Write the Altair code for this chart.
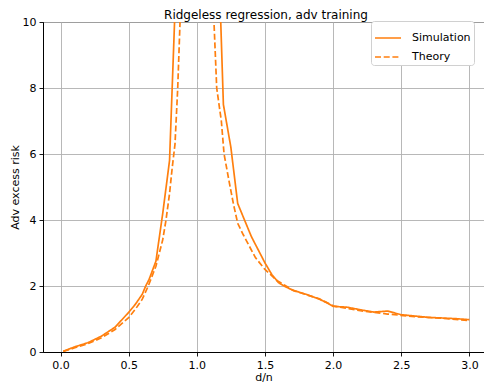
import altair as alt
import pandas as pd

# Simulation (solid)
sim_x = [0.02, 0.1, 0.2, 0.3, 0.4, 0.5, 0.55, 0.6, 0.625, 0.65, 0.7, 0.75, 0.8, 0.85,
         1.15, 1.195, 1.25, 1.3, 1.35, 1.4, 1.45, 1.5, 1.55, 1.6, 1.65, 1.7, 1.8, 1.9,
         1.95, 2.0, 2.1, 2.2, 2.3, 2.4, 2.5, 2.6, 2.7, 2.8, 2.9, 3.0]
sim_y = [0.02, 0.15, 0.28, 0.48, 0.75, 1.2, 1.45, 1.75, 2.0, 2.2, 2.75, 4.2, 5.8, 11.5,
         13.3, 7.5, 6.2, 4.5, 4.0, 3.5, 3.1, 2.7, 2.35, 2.1, 1.98, 1.88, 1.75, 1.6,
         1.5, 1.38, 1.36, 1.28, 1.21, 1.24, 1.13, 1.09, 1.05, 1.03, 1.01, 0.98]

# Theory (dashed)
th_x = [0.02, 0.1, 0.2, 0.3, 0.4, 0.5, 0.55, 0.6, 0.644, 0.7, 0.75, 0.774, 0.8, 0.82,
        0.84, 0.86, 0.877, 0.9,
        1.1, 1.126, 1.146, 1.18, 1.2, 1.24, 1.27, 1.3, 1.34, 1.43, 1.5, 1.59, 1.71,
        1.9, 2.0, 2.2, 2.4, 2.6, 2.8, 3.0]
th_y = [0.02, 0.12, 0.25, 0.43, 0.68, 1.04, 1.3, 1.6, 2.0, 2.6, 3.4, 4.0, 4.8, 5.6,
        6.3, 8.0, 10.0, 14.0,
        15.0, 10.0, 8.0, 7.0, 6.0, 5.1, 4.46, 3.9, 3.56, 2.86, 2.5, 2.16, 1.86,
        1.61, 1.4, 1.25, 1.15, 1.07, 1.02, 0.95]

x_ticks = [0.0, 0.5, 1.0, 1.5, 2.0, 2.5, 3.0]
y_ticks = [0, 2, 4, 6, 8, 10]
title_text = ["Ridgeless regression, adv training"]

df = pd.concat([
    pd.DataFrame({"d/n": sim_x, "risk": sim_y, "series": "Simulation", "order": range(len(sim_x))}),
    pd.DataFrame({"d/n": th_x, "risk": th_y, "series": "Theory", "order": range(len(th_x))}),
])

FONT = "DejaVu Sans"

lines = alt.Chart(df).mark_line(clip=True, color="#ff7f0e", strokeWidth=1.7).encode(
    x=alt.X("d/n:Q", title="d/n",
            scale=alt.Scale(domain=[-0.1284, 3.107], nice=False, zero=False),
            axis=alt.Axis(values=x_ticks, format=".1f")),
    y=alt.Y("risk:Q", title="Adv excess risk",
            scale=alt.Scale(domain=[0, 10], nice=False),
            axis=alt.Axis(values=y_ticks, format="d")),
    strokeDash=alt.StrokeDash("series:N",
            scale=alt.Scale(domain=["Simulation", "Theory"], range=[[1, 0], [6, 2.7]]),
            legend=alt.Legend(title=None, orient="none", legendX=328, legendY=-1,
                              symbolType="stroke", symbolStrokeColor="#ff7f0e",
                              symbolStrokeWidth=1.7, symbolSize=676,
                              labelFontSize=11, labelFont=FONT, labelColor="black",
                              rowPadding=0, padding=3, cornerRadius=3,
                              strokeColor="#d0d0d0", fillColor="white",
                              labelOffset=10)),
    detail="series:N",
    order="order:Q",
)

title = alt.Chart(pd.DataFrame({"t": title_text})).mark_text(
    font=FONT, fontSize=12, color="black", align="center", baseline="alphabetic"
).encode(
    text="t:N", x=alt.value(223), y=alt.value(-3)
)

chart = alt.layer(lines, title).properties(
    width=441, height=330,
    autosize=alt.AutoSizeParams(type="none"),
    padding={"left": 35, "top": 14, "right": 0, "bottom": 30},
).configure_view(
    stroke="black", strokeWidth=1
).configure_axis(
    grid=True, gridColor="#b0b0b0", gridWidth=0.9,
    domainColor="black", domainWidth=1,
    tickColor="black", tickSize=4, tickWidth=0.9,
    labelFont=FONT, labelFontSize=11, labelColor="black", labelPadding=3,
    titleFont=FONT, titleFontSize=11, titleFontWeight="normal", titleColor="black",
).configure_axisX(
    titlePadding=1,
).configure_axisY(
    titlePadding=2,
)

chart.save("out.html", embed_options={"renderer": "svg", "actions": False})
